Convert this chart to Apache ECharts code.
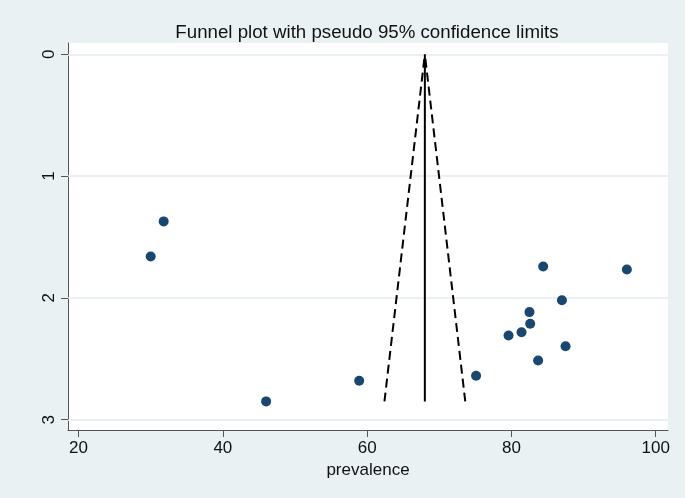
<!DOCTYPE html>
<html>
<head>
<meta charset="utf-8">
<script src="https://cdn.jsdelivr.net/npm/echarts@6/dist/echarts.min.js"></script>
<style>
html,body{margin:0;padding:0;background:#E9F1F3;}
#chart{width:685px;height:498px;}
</style>
</head>
<body>
<div id="chart"></div>
<script>
// Study estimates
const prevalence = [31.8, 30.0, 46.0, 58.9, 75.1, 84.4, 96.0, 87.0, 82.5, 82.6, 81.4, 79.6, 87.5, 83.7];
const stdError   = [1.372, 1.66, 2.85, 2.68, 2.64, 1.742, 1.767, 2.019, 2.117, 2.213, 2.282, 2.309, 2.397, 2.514];
// Funnel (pooled estimate and pseudo 95% limits)
const funnelY      = [0, 2.85];
const centerX      = [68.0, 68.0];
const lowerLimitX  = [68.0, 62.4];
const upperLimitX  = [68.0, 73.6];
// Axis ticks
const xTicks = [20, 40, 60, 80, 100];
const yTicks = [0, 1, 2, 3];

const toPairs = (xs, ys) => xs.map((x, i) => [x, ys[i]]);
const font = 'Liberation Sans, Arial, sans-serif';

const chart = echarts.init(document.getElementById('chart'));
chart.setOption({
  backgroundColor: '#E9F1F3',
  animation: false,
  title: {
    text: 'Funnel plot with pseudo 95% confidence limits',
    left: 362, top: 18, textAlign: 'center',
    textStyle: { fontFamily: font, fontSize: 18.7, fontWeight: 'normal', color: '#111' }
  },
  grid: { left: 68, top: 43, right: 17, bottom: 68, backgroundColor: '#fff', show: true, borderWidth: 0 },
  xAxis: {
    type: 'value', min: 18.54, max: 101.7,
    name: 'prevalence', nameLocation: 'middle', nameGap: 27,
    nameTextStyle: { fontFamily: font, fontSize: 17, color: '#111' },
    axisLine: { show: true, onZero: false, lineStyle: { color: '#555', width: 1 } },
    axisTick: { show: true, customValues: xTicks, length: 7, lineStyle: { color: '#555' } },
    axisLabel: { customValues: xTicks, fontFamily: font, fontSize: 17, color: '#111', margin: 10 },
    splitLine: { show: false }
  },
  yAxis: {
    type: 'value', inverse: true, min: -0.093, max: 3.085,
    axisLine: { show: true, onZero: false, lineStyle: { color: '#555', width: 1 } },
    axisTick: { show: true, customValues: yTicks, length: 7, lineStyle: { color: '#555' } },
    axisLabel: { customValues: yTicks, rotate: 90, fontFamily: font, fontSize: 17, color: '#111', margin: 10 },
    splitLine: { show: false }
  },
  series: [
    {
      type: 'line', data: [], silent: true, z: 1,
      markLine: {
        silent: true, symbol: 'none', label: { show: false }, z: 1,
        lineStyle: { color: '#E3EDF1', width: 1.5, type: 'solid' },
        data: yTicks.map(v => ({ yAxis: v }))
      }
    },
    {
      type: 'line', data: toPairs(centerX, funnelY), showSymbol: false, z: 3,
      lineStyle: { color: '#000', width: 2 }
    },
    {
      type: 'line', data: toPairs(lowerLimitX, funnelY), showSymbol: false, z: 3,
      lineStyle: { color: '#000', width: 2, type: [9, 5], dashOffset: 9.5 }
    },
    {
      type: 'line', data: toPairs(upperLimitX, funnelY), showSymbol: false, z: 3,
      lineStyle: { color: '#000', width: 2, type: [9, 5], dashOffset: 9.5 }
    },
    {
      type: 'scatter', data: toPairs(prevalence, stdError), symbolSize: 10, z: 5,
      itemStyle: { color: '#1A476F', opacity: 1 }
    }
  ]
});
</script>
</body>
</html>
